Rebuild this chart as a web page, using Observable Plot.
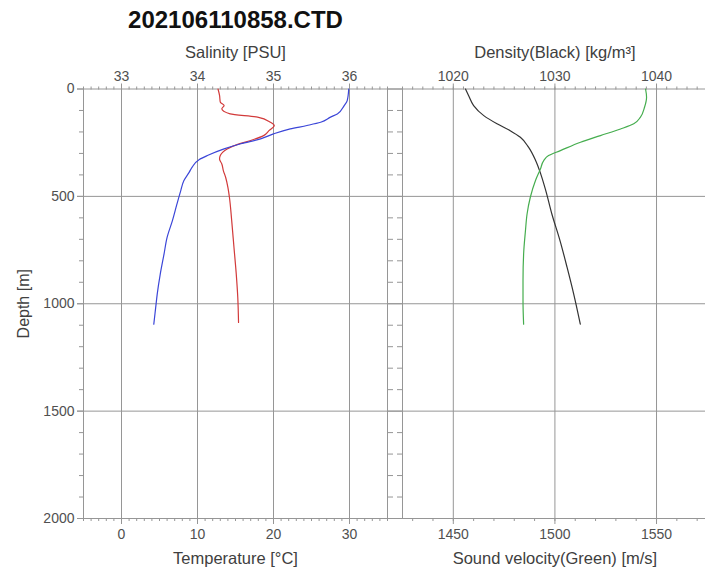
<!DOCTYPE html>
<html>
<head>
<meta charset="utf-8">
<script src="https://cdn.jsdelivr.net/npm/d3@7"></script>
<script src="https://cdn.jsdelivr.net/npm/@observablehq/plot@0.6"></script>
<style>
  body { margin: 0; background: #fff; overflow: hidden; }
  #fig { position: relative; width: 705px; height: 572px; overflow: hidden; }
  #fig svg { position: absolute; top: 0; }
</style>
</head>
<body>
<div id="fig"></div>
<script>
const title = "202106110858.CTD";

// Temperature profile (°C) against depth (m)
const tempDepth = [0, 54, 77, 116, 131, 155, 170, 186, 209, 232, 255, 279, 310, 329, 364, 388, 427, 473, 535, 613, 691, 768, 862, 955, 1017, 1095];
const temperature = [29.9, 29.7, 29.3, 28.4, 27.5, 26.2, 24.4, 22.2, 20.0, 18.3, 15.7, 13.5, 11.3, 10.2, 9.3, 8.9, 8.2, 7.8, 7.3, 6.7, 6.0, 5.6, 5.1, 4.7, 4.5, 4.25];

// Salinity profile (PSU)
const salDepth = [0, 30, 61, 77, 92, 116, 131, 155, 170, 194, 217, 240, 259, 279, 310, 326, 349, 380, 411, 458, 504, 613, 738, 862, 971, 1087];
const salinity = [34.27, 34.29, 34.30, 34.35, 34.32, 34.43, 34.79, 34.96, 35.01, 34.94, 34.87, 34.70, 34.52, 34.39, 34.30, 34.29, 34.32, 34.34, 34.37, 34.40, 34.42, 34.45, 34.48, 34.51, 34.53, 34.54];

// Density profile (kg/m³)
const densDepth = [0, 30, 77, 124, 162, 194, 225, 271, 333, 395, 473, 582, 706, 831, 955, 1095];
const density = [1021.2, 1021.5, 1022.0, 1023.0, 1024.3, 1025.6, 1026.6, 1027.4, 1028.1, 1028.6, 1029.1, 1029.7, 1030.5, 1031.2, 1031.85, 1032.5];

// Sound velocity profile (m/s)
const svDepth = [0, 38, 85, 131, 162, 186, 217, 248, 287, 310, 333, 372, 427, 504, 582, 660, 768, 893, 986, 1095];
const soundVelocity = [1544.6, 1545.1, 1544.1, 1542.1, 1538.8, 1532.3, 1522.4, 1512.6, 1502.7, 1496.9, 1494.5, 1492.9, 1490.4, 1487.9, 1486.3, 1485.5, 1484.6, 1484.3, 1484.3, 1484.6];

// Tick values
const depthTicks = [0, 500, 1000, 1500, 2000];
const tempTicks = [0, 10, 20, 30];
const salinityTicks = [33, 34, 35, 36];
const soundTicks = [1450, 1500, 1550];
const densityTicks = [1020, 1030, 1040];

// Each panel shares one x scale between its two variables:
// salinity is mapped onto the temperature axis, density onto the sound-velocity axis.
const salToT = s => (s - 33) * 10;
const tToSal = t => String(Math.round((33 + t / 10) * 10) / 10);
const denToV = r => 1450 + (r - 1020) * 5;
const vToDen = v => String(Math.round(1020 + (v - 1450) / 5));
const plain = d3.format("d");

const GRID = "#969696";
const LABEL = "#505050";
const TITLE = "#404040";
const FONT = "'Liberation Sans', Arial, Helvetica, sans-serif";
const minorDepth = d3.range(0, 2001, 100).filter(d => d % 500 !== 0);
const centered = {textAnchor: "middle", lineAnchor: "middle"};

const common = {
  height: 572,
  marginTop: 88.5,
  marginBottom: 54,
  y: {domain: [0, 2000], reverse: true, label: null},
  style: {fontFamily: FONT, fontSize: "14px", background: "transparent", overflow: "visible", color: LABEL}
};

// Left panel: temperature (bottom) and salinity (top)
const left = Plot.plot({
  ...common,
  width: 402,
  marginLeft: 83,
  marginRight: 15,
  x: {domain: [-5, 35], label: null},
  marks: [
    Plot.gridX({ticks: tempTicks, stroke: GRID, strokeOpacity: 1}),
    Plot.ruleY(depthTicks, {x1: -5 - 6 / 7.6, x2: 35 + 15 / 7.6, stroke: GRID}),
    Plot.ruleX([-5, 35], {stroke: GRID}),
    Plot.axisY({anchor: "left", ticks: depthTicks, tickFormat: plain, tickSize: 6, tickPadding: 3, label: null, stroke: GRID, fill: LABEL}),
    Plot.axisY({anchor: "left", ticks: minorDepth, tickSize: 4, tickFormat: () => "", label: null, stroke: GRID}),
    Plot.axisY({anchor: "right", ticks: minorDepth, tickSize: 5, tickFormat: () => "", label: null, stroke: GRID}),
    Plot.axisX({anchor: "top", ticks: salinityTicks.map(salToT), tickFormat: tToSal, tickSize: 6, tickPadding: 2, label: null, stroke: GRID, fill: LABEL}),
    Plot.axisX({anchor: "top", ticks: d3.range(-5, 36, 1), tickSize: 3, tickFormat: () => "", label: null, stroke: GRID}),
    Plot.axisX({anchor: "bottom", ticks: tempTicks, tickFormat: plain, tickSize: 6, tickPadding: 5, label: null, stroke: GRID, fill: LABEL}),
    Plot.axisX({anchor: "bottom", ticks: d3.range(-5, 36, 1), tickSize: 3, tickFormat: () => "", label: null, stroke: GRID}),
    Plot.line(salinity, {x: salinity.map(salToT), y: salDepth, stroke: "#d23a3a", strokeWidth: 1.2, curve: "monotone-y"}),
    Plot.line(temperature, {x: temperature, y: tempDepth, stroke: "#3b46d8", strokeWidth: 1.2, curve: "monotone-y"}),
    Plot.text([title], {...centered, frameAnchor: "top", dy: -68.5, fontSize: 24, fontWeight: "bold", fill: "#111"}),
    Plot.text(["Salinity [PSU]"], {...centered, frameAnchor: "top", dy: -36.5, fontSize: 16.5, fill: TITLE}),
    Plot.text(["Temperature [°C]"], {...centered, frameAnchor: "bottom", dy: 40, fontSize: 16.5, fill: TITLE}),
    Plot.text(["Depth [m]"], {...centered, frameAnchor: "left", dx: -60, rotate: -90, fontSize: 16, fill: TITLE})
  ]
});
left.style.left = "0px";

// Right panel: sound velocity (bottom) and density (top)
const right = Plot.plot({
  ...common,
  width: 317,
  marginLeft: 14,
  marginRight: 0,
  x: {domain: [1425, 1574.1], label: null},
  marks: [
    Plot.gridX({ticks: soundTicks, stroke: GRID, strokeOpacity: 1}),
    Plot.ruleY(depthTicks, {x1: 1425 - 14 / 2.03, x2: 1574.1, stroke: GRID}),
    Plot.ruleX([1425], {stroke: GRID}),
    Plot.axisY({anchor: "left", ticks: minorDepth, tickSize: 5, tickFormat: () => "", label: null, stroke: GRID}),
    Plot.axisX({anchor: "top", ticks: densityTicks.map(denToV), tickFormat: vToDen, tickSize: 6, tickPadding: 2, label: null, stroke: GRID, fill: LABEL}),
    Plot.axisX({anchor: "top", ticks: d3.range(1425, 1575, 5), tickSize: 3, tickFormat: () => "", label: null, stroke: GRID}),
    Plot.axisX({anchor: "bottom", ticks: soundTicks, tickFormat: plain, tickSize: 6, tickPadding: 5, label: null, stroke: GRID, fill: LABEL}),
    Plot.axisX({anchor: "bottom", ticks: d3.range(1430, 1575, 10), tickSize: 3, tickFormat: () => "", label: null, stroke: GRID}),
    Plot.line(density, {x: density.map(denToV), y: densDepth, stroke: "#333", strokeWidth: 1.2, curve: "monotone-y"}),
    Plot.line(soundVelocity, {x: soundVelocity, y: svDepth, stroke: "#45ad4e", strokeWidth: 1.2, curve: "monotone-y"}),
    Plot.text(["Density(Black) [kg/m³]"], {...centered, x: 1500, frameAnchor: "top", dy: -36.5, fontSize: 16.5, fill: TITLE}),
    Plot.text(["Sound velocity(Green) [m/s]"], {...centered, x: 1500, frameAnchor: "bottom", dy: 40, fontSize: 16.5, fill: TITLE})
  ]
});
right.style.left = "388px";

document.getElementById("fig").append(left, right);
</script>
</body>
</html>
